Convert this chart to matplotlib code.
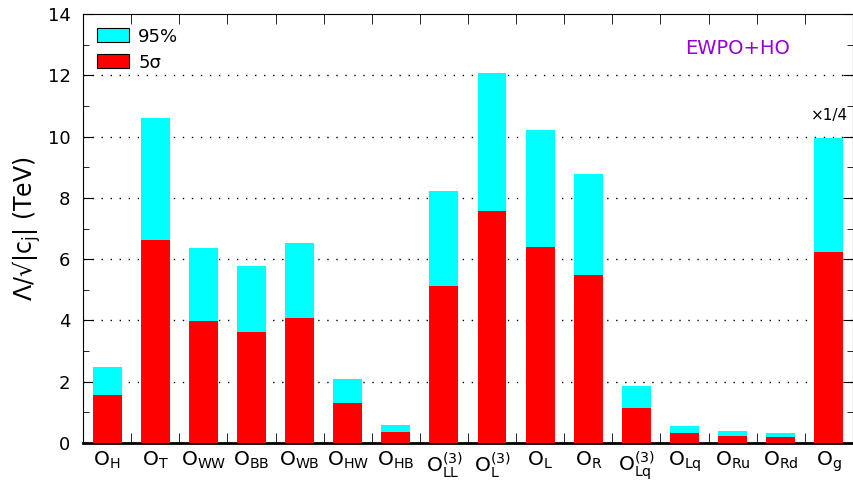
import matplotlib
matplotlib.use("Agg")
import matplotlib.pyplot as plt
import matplotlib.patches as mpatches
import numpy as np

# ── data ──────────────────────────────────────────────
labels = [r"$\mathregular{O_H}$", r"$\mathregular{O_T}$", r"$\mathregular{O_{WW}}$",
          r"$\mathregular{O_{BB}}$", r"$\mathregular{O_{WB}}$", r"$\mathregular{O_{HW}}$",
          r"$\mathregular{O_{HB}}$", r"$\mathregular{O_{LL}^{(3)}}$", r"$\mathregular{O_L^{(3)}}$",
          r"$\mathregular{O_L}$", r"$\mathregular{O_R}$", r"$\mathregular{O_{Lq}^{(3)}}$",
          r"$\mathregular{O_{Lq}}$", r"$\mathregular{O_{Ru}}$", r"$\mathregular{O_{Rd}}$",
          r"$\mathregular{O_g}$"]
cl95   = [2.48, 10.60, 6.36, 5.78, 6.53, 2.09, 0.59, 8.22, 12.08, 10.22, 8.78, 1.86, 0.55, 0.39, 0.33, 9.95]
sigma5 = [1.57, 6.63, 3.98, 3.62, 4.08, 1.31, 0.36, 5.12, 7.57, 6.40, 5.48, 1.14, 0.33, 0.23, 0.20, 6.23]

plt.rcParams["font.family"] = ["DejaVu Sans"]
plt.rcParams["mathtext.fontset"] = "dejavusans"

fig = plt.figure(figsize=(8.54, 4.83), dpi=100)
ax = fig.add_axes([0.0972, 0.0828, 0.9016, 0.8882])

x = np.arange(len(labels))
ax.bar(x, cl95, width=0.6, color="#00ffff", edgecolor="none", zorder=2)
ax.bar(x, sigma5, width=0.6, color="#ff0000", edgecolor="none", zorder=3)

ax.set_xlim(-0.5, len(labels) - 0.5)
ax.set_ylim(0, 14)

# dotted horizontal grid at major y ticks
for yv in range(2, 14, 2):
    ax.axhline(yv, color="black", lw=1.0, ls=(0, (1, 5.5)), zorder=1)

ax.set_yticks(range(0, 15, 2))
ax.set_yticks(range(1, 14, 2), minor=True)
ax.set_xticks(x)
ax.set_xticklabels(labels, fontsize=14.5)
ax.set_xticks(x[:-1] + 0.5, minor=True)

ax.tick_params(axis="x", which="major", length=0, pad=5)
ax.tick_params(axis="x", which="minor", direction="in", length=7, top=True, bottom=True)
ax.tick_params(axis="y", which="major", direction="in", length=7, right=True,
               labelsize=13, pad=9)
ax.tick_params(axis="y", which="minor", direction="in", length=4, right=True)
ax.spines["bottom"].set_linewidth(2)

ax.set_ylabel(r"Λ/√|c$_\mathregular{j}$| (TeV)", fontsize=17, labelpad=3)

# legend
h95 = mpatches.Patch(facecolor="#00ffff", edgecolor="black", lw=0.8, label="95%")
h5s = mpatches.Patch(facecolor="#ff0000", edgecolor="black", lw=0.8, label="5σ")
ax.legend(handles=[h95, h5s], loc="upper left", frameon=False, fontsize=13,
          handlelength=1.8, handleheight=0.8, handletextpad=0.5,
          borderaxespad=0.35, labelspacing=0.45)

ax.text(0.8506, 0.9207, "EWPO+HO", transform=ax.transAxes, color="#9400d3",
        fontsize=14, ha="center", va="center")
ax.text(15.02, 10.45, "×1/4", fontsize=11, ha="center", va="bottom")

fig.savefig("out.png", dpi=100)
